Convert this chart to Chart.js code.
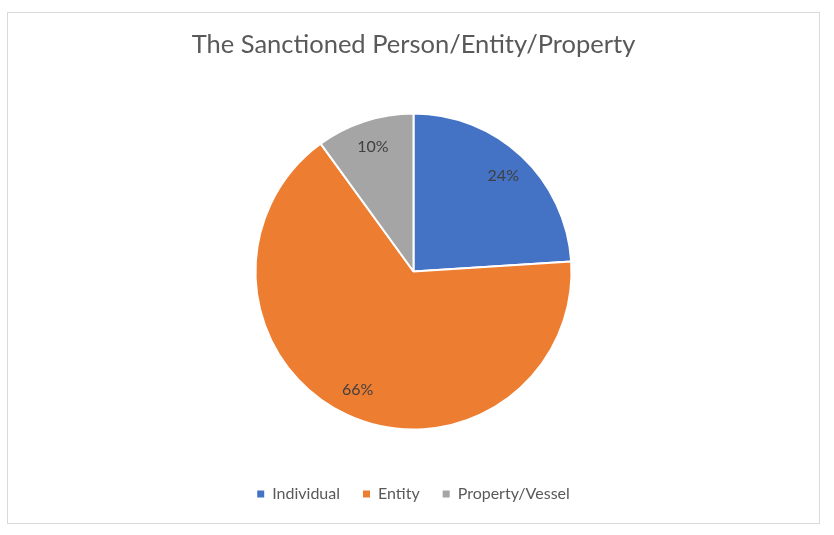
<!DOCTYPE html>
<html>
<head>
<meta charset="utf-8">
<script src="https://cdn.jsdelivr.net/npm/chart.js@4"></script>
<style>
  html, body { margin: 0; padding: 0; background: #ffffff; }
  #frame { position: absolute; left: 7px; top: 12px; width: 813px; height: 512px; box-sizing: border-box; border: 1px solid #d9d9d9; background: #fff; }
  #frame canvas { display: block; }
</style>
</head>
<body>
<div id="frame"><canvas id="c" width="811" height="510"></canvas></div>
<script>
const chartTitle = 'The Sanctioned Person/Entity/Property';
const categories = ['Individual', 'Entity', 'Property/Vessel'];
const percentValues = [24, 66, 10];
const sliceColors = ['#4472C4', '#ED7D31', '#A5A5A5'];

const labelPlugin = {
  id: 'sliceLabels',
  afterDatasetsDraw(chart) {
    const ctx = chart.ctx;
    const meta = chart.getDatasetMeta(0);
    const data = chart.data.datasets[0].data;
    ctx.save();
    ctx.font = '16px Lato';
    ctx.fillStyle = '#404040';
    ctx.textAlign = 'center';
    ctx.textBaseline = 'middle';
    meta.data.forEach((arc, i) => {
      const p = arc.getProps(['x', 'y', 'startAngle', 'endAngle', 'outerRadius'], true);
      const mid = (p.startAngle + p.endAngle) / 2;
      const r = p.outerRadius * 0.83;
      ctx.fillText(data[i] + '%', p.x + Math.cos(mid) * r, p.y + Math.sin(mid) * r);
    });
    ctx.restore();
  }
};

new Chart(document.getElementById('c'), {
  type: 'pie',
  data: {
    labels: categories,
    datasets: [{
      data: percentValues,
      backgroundColor: sliceColors,
      borderColor: '#ffffff',
      borderWidth: 2
    }]
  },
  options: {
    responsive: false,
    animation: false,
    radius: 158,
    layout: { padding: { top: 0, bottom: 11, left: 0, right: 0 } },
    plugins: {
      title: {
        display: true,
        text: chartTitle,
        color: '#595959',
        font: { family: 'Lato', size: 25.5, weight: '400' },
        padding: { top: 16.7, bottom: 19.7 }
      },
      legend: {
        position: 'bottom',
        labels: {
          color: '#595959',
          font: { family: 'Lato', size: 16 },
          boxWidth: 7,
          boxHeight: 7,
          padding: 23,
          generateLabels(chart) {
            const items = Chart.overrides.pie.plugins.legend.labels.generateLabels(chart);
            items.forEach(it => { it.lineWidth = 0; it.strokeStyle = it.fillStyle; });
            return items;
          }
        }
      },
      tooltip: { enabled: false }
    }
  },
  plugins: [labelPlugin]
});
</script>
</body>
</html>
